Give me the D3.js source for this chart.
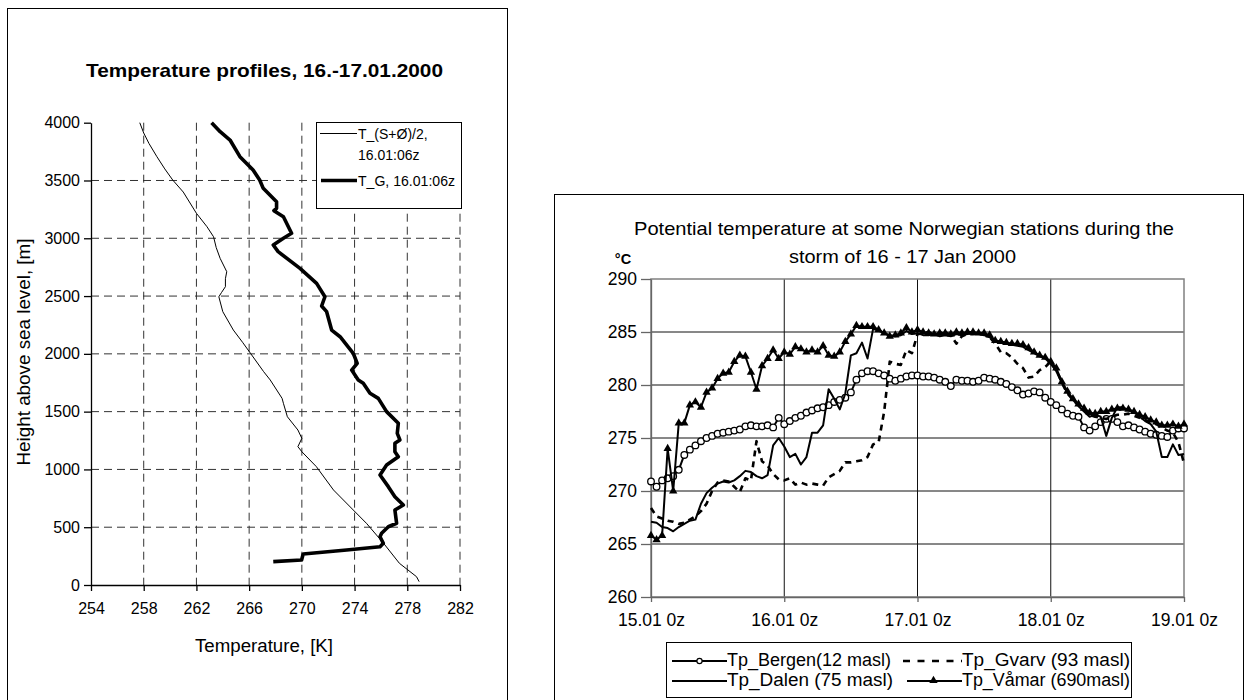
<!DOCTYPE html>
<html>
<head>
<meta charset="utf-8">
<script src="https://cdn.jsdelivr.net/npm/d3@7"></script>
<style>
  html, body { margin: 0; padding: 0; background: #fff; }
  svg { display: block; font-family: Arial, "Liberation Sans", sans-serif; }
</style>
</head>
<body>
<svg id="fig" width="1249" height="700"></svg>
<script>
// ---------- Temperature profiles: [temperature K, height m] ----------
const profileMean = [
  [257.7,4000],[258.0,3911],[258.4,3820],[259.0,3706],[259.6,3600],[260.2,3504],
  [261.0,3400],[262.0,3216],[262.8,3100],[263.3,3013],[263.5,2920],[263.8,2826],
  [264.3,2711],[264.2,2650],[264.2,2581],[263.9,2530],[263.7,2494],[264.0,2365],
  [264.8,2206],[265.5,2100],[266.1,2005],[267.1,1846],[267.6,1774],[268.5,1615],
  [268.6,1572],[268.9,1456],[269.7,1341],[270.0,1269],[269.7,1197],[270.0,1153],
  [271.1,1024],[272.4,822],[273.9,649],[274.9,534],[276.2,361],[277.4,188],
  [278.7,72],[278.9,29]
];
const profileG = [
  [263.15,4000],[263.8,3922],[264.55,3850],[265.3,3706],[266.3,3590],[266.8,3504],
  [267.07,3432],[268.08,3316],[268.08,3259],[267.88,3239],[268.6,3186],[269.22,3043],
  [268.6,3000],[267.83,2942],[268.2,2884],[269.86,2740],[271.12,2610],[271.75,2494],
  [271.5,2414],[271.88,2365],[272.26,2206],[272.9,2148],[273.9,2005],[274.2,1918],
  [273.78,1860],[274.28,1774],[274.66,1745],[275.17,1659],[275.8,1615],[276.43,1500],
  [277.32,1399],[277.24,1312],[277.44,1255],[277.06,1226],[277.06,1153],[277.32,1110],
  [276.43,1038],[275.93,952],[276.56,851],[277.06,764],[277.7,692],[277.06,649],
  [277.19,534],[276.56,504],[276.05,447],[275.93,418],[276.18,361],[275.93,331],
  [273.4,303],[270.1,268],[269.98,216],[267.83,202]
];
const profileTicksT = [254,258,262,266,270,274,278,282];
const profileTicksH = [0,500,1000,1500,2000,2500,3000,3500,4000];
const profileLegend = [["T_(S+Ø)/2,", "16.01:06z"], ["T_G, 16.01:06z"]];

// ---------- Potential temperature, hourly from 15.01 0z to 19.01 0z ----------
const hourTicks = [0,24,48,72,96];
const hourTickLabels = ["15.01 0z","16.01 0z","17.01 0z","18.01 0z","19.01 0z"];
const thetaTicks = [260,265,270,275,280,285,290];
const stationNames = ["Tp_Bergen(12 masl)","Tp_Gvarv (93 masl)","Tp_Dalen (75 masl)","Tp_Våmar (690masl)"];

const bergen = [
  270.9,270.4,271.0,271.2,271.4,272.0,273.4,273.9,274.3,274.7,
  275.0,275.2,275.4,275.5,275.6,275.7,275.8,276.1,276.2,276.1,
  276.1,276.2,276.0,276.9,276.3,276.6,276.9,277.1,277.4,277.6,
  277.8,277.9,278.1,278.4,278.6,278.8,279.3,280.5,281.1,281.3,
  281.3,281.1,280.9,280.6,280.4,280.6,280.8,280.9,280.9,280.8,
  280.8,280.7,280.5,280.3,279.9,280.5,280.4,280.4,280.3,280.4,
  280.7,280.6,280.5,280.3,280.1,279.8,279.5,279.1,279.2,279.4,
  279.3,278.8,278.4,278.1,277.7,277.3,277.1,277.0,276.0,275.7,
  276.1,276.5,276.8,276.8,276.5,276.1,276.2,276.0,275.8,275.6,
  275.4,275.3,275.2,275.1,275.7,275.9,275.9
];
const gvarv = [
  268.4,267.6,267.4,267.2,267.1,266.9,267.0,267.3,267.6,268.1,
  268.8,270.0,270.8,271.0,270.9,270.4,269.9,271.2,271.0,274.7,
  272.8,272.4,271.6,271.1,271.0,271.2,270.6,270.8,270.6,270.7,
  270.6,270.5,271.3,271.6,271.9,272.7,272.7,272.8,272.9,273.2,
  274.4,274.6,277.5,282.2,282.0,281.9,283.3,283.0,284.8,284.9,
  285.0,284.7,284.9,285.0,284.7,283.9,284.6,284.8,284.8,284.9,
  284.8,284.5,283.9,283.1,283.0,282.6,282.0,281.6,280.7,280.8,
  281.4,281.7,282.2,281.5,280.2,279.2,278.6,278.1,277.6,277.2,
  277.0,276.9,276.8,277.0,277.2,277.2,277.3,277.1,276.9,276.7,
  276.5,276.3,276.0,275.7,275.5,274.6,272.6
];
const dalen = [
  267.1,267.0,266.6,266.5,266.2,266.6,266.9,267.2,267.3,268.8,
  269.8,270.3,270.7,270.9,270.8,271.0,271.4,271.9,271.8,271.4,
  271.2,271.5,274.3,275.0,274.2,273.2,273.5,272.5,273.2,275.5,
  275.5,276.2,279.6,278.7,277.7,279.2,282.8,283.0,284.0,282.5,
  285.3,285.1,284.9,284.7,284.6,284.7,285.1,284.8,284.9,284.7,
  284.7,284.8,284.6,284.7,284.6,284.8,284.7,284.8,284.9,284.8,
  284.7,284.5,284.1,284.0,283.9,283.8,283.7,283.6,283.3,283.0,
  282.7,282.5,282.0,281.3,280.2,279.3,278.6,278.0,277.5,277.0,
  277.2,277.0,275.2,276.9,277.9,277.9,277.6,277.4,277.0,276.6,
  276.3,275.6,273.2,273.2,274.4,273.4,273.5
];
const vamar = [
  265.8,265.4,265.8,274.0,270.0,276.4,276.4,278.1,278.4,277.9,
  279.3,279.7,280.6,281.1,281.2,282.2,282.8,282.7,281.2,279.6,
  281.8,282.5,283.3,282.5,283.1,282.9,283.6,283.4,283.1,283.3,
  283.1,283.7,282.8,282.7,283.1,284.1,284.8,285.6,285.5,285.5,
  285.5,285.2,284.9,284.6,284.7,284.9,285.4,285.0,285.2,285.0,
  284.9,284.8,284.9,284.9,284.8,285.0,284.9,285.0,285.0,284.9,
  284.9,284.7,284.2,284.1,284.0,283.9,283.9,283.8,283.5,283.1,
  282.8,282.6,282.2,281.6,280.3,279.4,278.7,278.2,277.8,277.4,
  277.3,277.5,277.5,277.7,277.8,277.8,277.7,277.5,277.2,277.0,
  276.7,276.5,276.2,276.2,276.3,276.1,276.3
];

const svg = d3.select("#fig");
svg.append("rect").attr("width", 1249).attr("height", 700).attr("fill", "#fff");

// ================= Left panel: temperature profiles =================
const L = svg.append("g");
L.append("rect").attr("x", 7.5).attr("y", 8.5).attr("width", 500).attr("height", 720)
  .attr("fill", "#fff").attr("stroke", "#000").attr("stroke-width", 1);

const xL = d3.scaleLinear().domain([254, 282]).range([91, 460]);
const yL = d3.scaleLinear().domain([0, 4000]).range([585, 122.7]);

// dashed grid
L.append("g").selectAll("line").data(profileTicksT.slice(1)).join("line")
  .attr("x1", d => xL(d)).attr("x2", d => xL(d))
  .attr("y1", yL(4000)).attr("y2", yL(0))
  .attr("stroke", "#333").attr("stroke-width", 1).attr("stroke-dasharray", "8,5");
L.append("g").selectAll("line").data(profileTicksH.slice(1, -1)).join("line")
  .attr("x1", xL(254)).attr("x2", xL(282))
  .attr("y1", d => yL(d)).attr("y2", d => yL(d))
  .attr("stroke", "#333").attr("stroke-width", 1).attr("stroke-dasharray", "8,5");

const profLine = d3.line().x(d => xL(d[0])).y(d => yL(d[1]));
L.append("path").datum(profileMean).attr("d", profLine)
  .attr("fill", "none").attr("stroke", "#000").attr("stroke-width", 1);
L.append("path").datum(profileG).attr("d", profLine)
  .attr("fill", "none").attr("stroke", "#000").attr("stroke-width", 3.6)
  .attr("stroke-linejoin", "round");

const axL = L.append("g").attr("transform", `translate(${xL(254)},0)`)
  .call(d3.axisLeft(yL).tickValues(profileTicksH).tickFormat(d3.format("d"))
    .tickSize(7).tickSizeOuter(0).tickPadding(4));
const axB = L.append("g").attr("transform", `translate(0,${yL(0)})`)
  .call(d3.axisBottom(xL).tickValues(profileTicksT).tickFormat(d3.format("d"))
    .tickSize(6).tickSizeOuter(0).tickPadding(12));
[axL, axB].forEach(a => {
  a.selectAll("path,line").attr("stroke", "#000").attr("stroke-width", 1.3);
  a.selectAll("text").attr("font-size", 16).attr("fill", "#000")
    .attr("font-family", "Arial, 'Liberation Sans', sans-serif");
});

L.append("text").attr("x", 264.5).attr("y", 77).attr("text-anchor", "middle")
  .attr("font-size", 19).attr("font-weight", "bold")
  .attr("textLength", 357).attr("lengthAdjust", "spacingAndGlyphs")
  .text("Temperature profiles, 16.-17.01.2000");
L.append("text").attr("x", 264).attr("y", 652).attr("text-anchor", "middle")
  .attr("font-size", 17.5).attr("textLength", 138).attr("lengthAdjust", "spacingAndGlyphs")
  .text("Temperature, [K]");
L.append("text").attr("transform", "translate(30,352) rotate(-90)").attr("text-anchor", "middle")
  .attr("font-size", 17.5).attr("textLength", 227).attr("lengthAdjust", "spacingAndGlyphs")
  .text("Height above sea level, [m]");

// legend
const lg = L.append("g");
lg.append("rect").attr("x", 316.5).attr("y", 122.5).attr("width", 145).attr("height", 86)
  .attr("fill", "#fff").attr("stroke", "#000").attr("stroke-width", 1);
lg.append("line").attr("x1", 320).attr("x2", 357).attr("y1", 133.5).attr("y2", 133.5)
  .attr("stroke", "#000").attr("stroke-width", 1);
lg.append("text").attr("x", 358).attr("y", 138.5).attr("font-size", 14).text(profileLegend[0][0]);
lg.append("text").attr("x", 358).attr("y", 159.5).attr("font-size", 14).text(profileLegend[0][1]);
lg.append("line").attr("x1", 321).attr("x2", 357).attr("y1", 180.5).attr("y2", 180.5)
  .attr("stroke", "#000").attr("stroke-width", 3.6);
lg.append("text").attr("x", 358).attr("y", 185.5).attr("font-size", 14)
  .attr("textLength", 97).attr("lengthAdjust", "spacingAndGlyphs").text(profileLegend[1][0]);

// ================= Right panel: potential temperature =================
const R = svg.append("g");
R.append("rect").attr("x", 554.5).attr("y", 194.5).attr("width", 689).attr("height", 540)
  .attr("fill", "#fff").attr("stroke", "#000").attr("stroke-width", 1);

const xR = d3.scaleLinear().domain([0, 96]).range([651, 1184]);
const yR = d3.scaleLinear().domain([260, 290]).range([597, 279]);

// grid
R.append("g").selectAll("line").data(thetaTicks.slice(1, -1)).join("line")
  .attr("x1", xR(0)).attr("x2", xR(96)).attr("y1", d => yR(d)).attr("y2", d => yR(d))
  .attr("stroke", "#111").attr("stroke-width", 1);
R.append("g").selectAll("line").data(hourTicks.slice(1, -1)).join("line")
  .attr("y1", yR(260)).attr("y2", yR(290)).attr("x1", d => xR(d)).attr("x2", d => xR(d))
  .attr("stroke", "#111").attr("stroke-width", 1);
R.append("rect").attr("x", xR(0)).attr("y", yR(290))
  .attr("width", xR(96) - xR(0)).attr("height", yR(260) - yR(290))
  .attr("fill", "none").attr("stroke", "#808080").attr("stroke-width", 1.5);

const axRL = R.append("g").attr("transform", `translate(${xR(0)},0)`)
  .call(d3.axisLeft(yR).tickValues(thetaTicks).tickSize(10).tickSizeOuter(0).tickPadding(4));
const axRB = R.append("g").attr("transform", `translate(0,${yR(260)})`)
  .call(d3.axisBottom(xR).tickValues(hourTicks).tickFormat((d, i) => hourTickLabels[i])
    .tickSize(5).tickSizeOuter(0).tickPadding(12));
[axRL, axRB].forEach(a => {
  a.selectAll("path,line").attr("stroke", "#666").attr("stroke-width", 1.3);
  a.selectAll("text").attr("font-size", 17.5).attr("fill", "#000")
    .attr("font-family", "Arial, 'Liberation Sans', sans-serif");
});

const tLine = d3.line().defined(d => d != null).x((d, i) => xR(i)).y(d => yR(d));
function seriesPath(values, width, dash) {
  R.append("path").datum(values).attr("d", tLine).attr("fill", "none")
    .attr("stroke", "#000").attr("stroke-width", width)
    .attr("stroke-dasharray", dash || null).attr("stroke-linejoin", "round");
}
seriesPath(bergen, 2);
R.append("g").selectAll("circle").data(bergen).join("circle")
  .attr("cx", (d, i) => xR(i)).attr("cy", d => yR(d)).attr("r", 3.3)
  .attr("fill", "#fff").attr("stroke", "#000").attr("stroke-width", 1.3);
seriesPath(gvarv, 2.6, "6,5");
seriesPath(dalen, 2);
seriesPath(vamar, 2);
const tri = d3.symbol().type(d3.symbolTriangle).size(30);
R.append("g").selectAll("path").data(vamar).join("path")
  .attr("d", tri).attr("transform", (d, i) => `translate(${xR(i)},${yR(d)})`)
  .attr("fill", "#000");

// titles
R.append("text").attr("x", 904).attr("y", 235).attr("text-anchor", "middle")
  .attr("font-size", 18.5).attr("textLength", 540).attr("lengthAdjust", "spacingAndGlyphs")
  .text("Potential temperature at some Norwegian stations during the");
R.append("text").attr("x", 902.5).attr("y", 263).attr("text-anchor", "middle")
  .attr("font-size", 18.5).attr("textLength", 227).attr("lengthAdjust", "spacingAndGlyphs")
  .text("storm of 16 - 17 Jan 2000");
R.append("text").attr("x", 623).attr("y", 264).attr("text-anchor", "middle")
  .attr("font-size", 14.5).attr("font-weight", "bold").text("°C");

// legend
const rl = R.append("g");
rl.append("rect").attr("x", 666.5).attr("y", 642.5).attr("width", 465).attr("height", 55)
  .attr("fill", "#fff").attr("stroke", "#000").attr("stroke-width", 1);
const legRows = [661, 681];
// Bergen
rl.append("line").attr("x1", 672).attr("x2", 727).attr("y1", legRows[0]).attr("y2", legRows[0])
  .attr("stroke", "#000").attr("stroke-width", 2);
rl.append("circle").attr("cx", 699.5).attr("cy", legRows[0]).attr("r", 2.6)
  .attr("fill", "#fff").attr("stroke", "#000").attr("stroke-width", 1.2);
// Gvarv
rl.append("line").attr("x1", 903).attr("x2", 962).attr("y1", legRows[0]).attr("y2", legRows[0])
  .attr("stroke", "#000").attr("stroke-width", 2.6).attr("stroke-dasharray", "7,7.5");
// Dalen
rl.append("line").attr("x1", 672).attr("x2", 727).attr("y1", legRows[1]).attr("y2", legRows[1])
  .attr("stroke", "#000").attr("stroke-width", 2);
// Våmar
rl.append("line").attr("x1", 907).attr("x2", 962).attr("y1", legRows[1]).attr("y2", legRows[1])
  .attr("stroke", "#000").attr("stroke-width", 2);
rl.append("path").attr("d", tri).attr("transform", `translate(933.5,${legRows[1] - 0.5})`).attr("fill", "#000");

const legText = [
  { x: 727, y: legRows[0] + 4.5, w: 164, t: stationNames[0] },
  { x: 962, y: legRows[0] + 4.5, w: 168, t: stationNames[1] },
  { x: 727, y: legRows[1] + 4.5, w: 166, t: stationNames[2] },
  { x: 962, y: legRows[1] + 4.5, w: 168, t: stationNames[3] }
];
rl.selectAll("text.lt").data(legText).join("text").attr("class", "lt")
  .attr("x", d => d.x).attr("y", d => d.y).attr("font-size", 18)
  .attr("textLength", d => d.w).attr("lengthAdjust", "spacingAndGlyphs")
  .text(d => d.t);
</script>
</body>
</html>
